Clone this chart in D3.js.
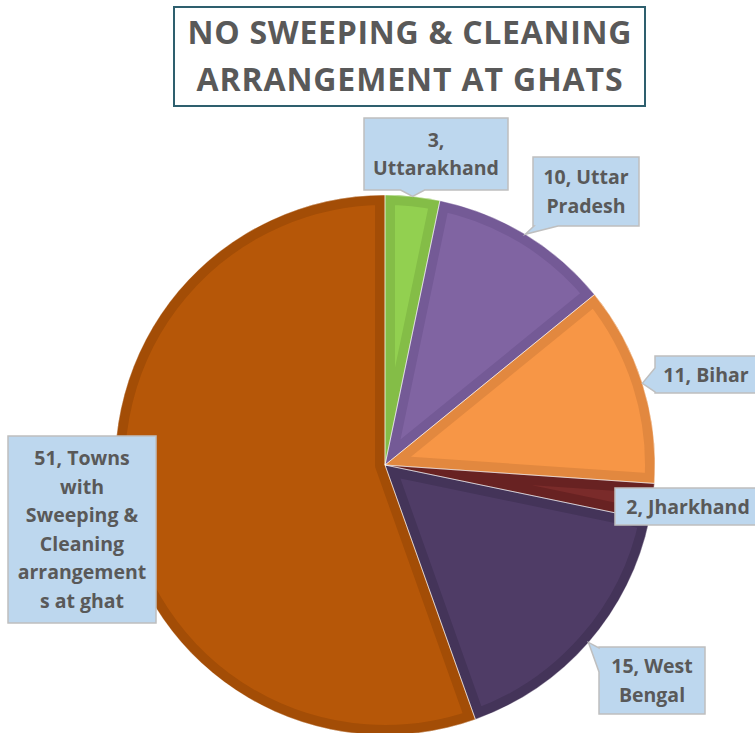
<!DOCTYPE html>
<html>
<head>
<meta charset="utf-8">
<script src="https://cdn.jsdelivr.net/npm/d3@7"></script>
<style>
  html, body { margin: 0; padding: 0; background: #ffffff; }
  svg { display: block; }
</style>
</head>
<body>
<svg id="chart" width="755" height="733"></svg>
<script>
// ---------- data ----------
const categories = ["Uttarakhand", "Uttar Pradesh", "Bihar", "Jharkhand", "West Bengal",
  "Towns with Sweeping & Cleaning arrangements at ghat"];
const values = [3, 10, 11, 2, 15, 51];
const labelLines = [
  ["3,", "Uttarakhand"],
  ["10, Uttar", "Pradesh"],
  ["11, Bihar"],
  ["2, Jharkhand"],
  ["15, West", "Bengal"],
  ["51, Towns", "with", "Sweeping &", "Cleaning", "arrangement", "s at ghat"]
];
const titleLines = ["NO SWEEPING & CLEANING", "ARRANGEMENT AT GHATS"];

// ---------- style / layout ----------
const fills   = ["#92D050", "#8064A2", "#F79646", "#7A2B2A", "#4F3C66", "#B65708"];
const borders = ["#84BD47", "#745A96", "#E2883F", "#682222", "#443459", "#A34D06"];
const cx = 385, cy = 465, R = 270;
const titleWidths = [444, 426];
// label boxes [x0, y0, x1, y1, pointerSide]
const boxes = [
  [364, 118, 508, 190, "bottom"],
  [533, 157, 639, 226, "bottom"],
  [655, 356, 757, 393, "left"],
  [615, 488, 761, 525, "none"],
  [599, 647, 705, 714, "left"],
  [8, 436, 156, 623, "none"]
];

const svg = d3.select("#chart");

// ---------- title ----------
svg.append("rect").attr("x", 174).attr("y", 7).attr("width", 471).attr("height", 99)
  .attr("fill", "#ffffff").attr("stroke", "#2E5F6E").attr("stroke-width", 2);
svg.selectAll("text.title").data(titleLines).join("text")
  .attr("class", "title")
  .attr("x", 409.5).attr("y", (d, i) => 44 + i * 47)
  .attr("text-anchor", "middle")
  .attr("font-family", "'Open Sans', sans-serif").attr("font-weight", "bold")
  .attr("font-size", 32).attr("fill", "#595959")
  .attr("textLength", (d, i) => titleWidths[i])
  .attr("lengthAdjust", "spacing")
  .text(d => d);

// ---------- pie ----------
const pie = d3.pie().sort(null).value(d => d)(values);
const arc = d3.arc().innerRadius(0).outerRadius(R);
const g = svg.append("g").attr("transform", `translate(${cx},${cy})`);
const defs = svg.append("defs");
pie.forEach((p, i) => {
  defs.append("clipPath").attr("id", "clip" + i).append("path").attr("d", arc(p));
});
g.selectAll("path.slice").data(pie).join("path")
  .attr("class", "slice")
  .attr("d", arc)
  .attr("fill", (d, i) => fills[i])
  .attr("stroke", (d, i) => borders[i])
  .attr("stroke-width", 20)
  .attr("stroke-linejoin", "round")
  .attr("clip-path", (d, i) => `url(#clip${i})`);
g.selectAll("path.sep").data(pie).join("path")
  .attr("class", "sep")
  .attr("d", arc)
  .attr("fill", "none")
  .attr("stroke", "rgba(255,255,255,0.45)")
  .attr("stroke-width", 1);

// ---------- callouts ----------
function calloutPath(b, tx, ty) {
  const [x0, y0, x1, y1, side] = b;
  const hw = 12;
  if (side === "bottom") {
    const c = Math.max(x0 + hw + 1, Math.min(x1 - hw - 1, tx));
    return `M${x0},${y0}H${x1}V${y1}H${c + hw}L${tx},${ty}L${c - hw},${y1}H${x0}Z`;
  }
  if (side === "left") {
    const c = Math.max(y0 + hw + 1, Math.min(y1 - hw - 1, ty));
    return `M${x0},${y0}H${x1}V${y1}H${x0}V${c + hw}L${tx},${ty}L${x0},${c - hw}Z`;
  }
  return `M${x0},${y0}H${x1}V${y1}H${x0}Z`;
}
const labels = svg.append("g");
pie.forEach((p, i) => {
  const mid = (p.startAngle + p.endAngle) / 2;
  const tx = cx + R * Math.sin(mid), ty = cy - R * Math.cos(mid);
  const b = boxes[i];
  labels.append("path").attr("d", calloutPath(b, tx, ty))
    .attr("fill", "#BDD7EE").attr("stroke", "#BFBFBF").attr("stroke-width", 1.5);
  const lines = labelLines[i];
  const lh = 28.5;
  const midY = (b[1] + b[3]) / 2;
  const x = (b[0] + b[2]) / 2;
  labels.append("text")
    .attr("font-family", "'Open Sans', sans-serif").attr("font-weight", "bold")
    .attr("font-size", 19.5).attr("fill", "#595959").attr("text-anchor", "middle")
    .selectAll("tspan").data(lines).join("tspan")
    .attr("x", x)
    .attr("y", (d, k) => midY + (k - (lines.length - 1) / 2) * lh + 7)
    .text(d => d);
});
</script>
</body>
</html>
